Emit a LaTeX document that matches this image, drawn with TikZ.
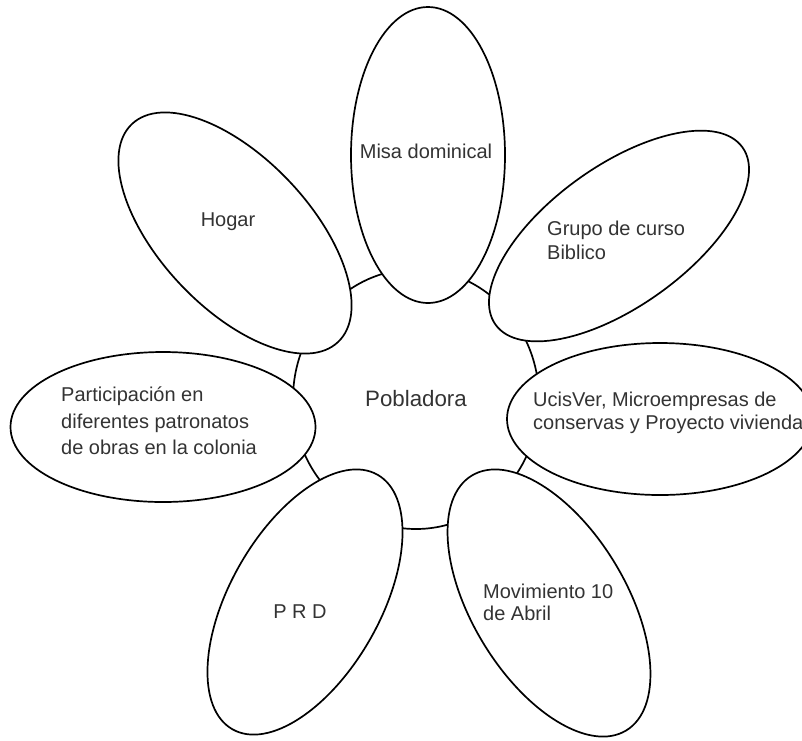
\documentclass[tikz,border=0pt]{standalone}
\usepackage{fontspec}
\setmainfont{Liberation Sans}
\usetikzlibrary{shapes.geometric,positioning}
\tikzset{
    core/.style={
            ellipse,
            draw,
            line width=1.7pt,
            inner sep=0pt,
            minimum width=246pt,
            minimum height=260pt,
            font=\fontsize{22.3}{26}\selectfont,
            text=black!80
        },
    petal/.style={
            ellipse,
            draw,
            line width=1.7pt,
            fill=white,
            inner sep=0pt
        },
    petaltext/.style={
            align=left,
            inner sep=0pt,
            font=\fontsize{20}{24}\selectfont,
            text=black!80
        },
}
\begin{document}
\begin{tikzpicture}[x=1pt,y=-1pt]
  \useasboundingbox (0,0) rectangle (802,740);
  \clip (0,0) rectangle (802,740);
  % Center
  \node[core] (pob) at (416,399) {Pobladora};
  % Petals
  \node[petal, rotate=90, minimum width=296pt, minimum height=154pt] (misa) at (428,155) {};
  \node[petal, rotate=133.4, minimum width=300pt, minimum height=150pt] (hogar) at (235,233) {};
  \node[petal, rotate=35.7, minimum width=304pt, minimum height=140pt] (grupo) at (619,236) {};
  \node[petal, minimum width=305pt, minimum height=150pt] (obras) at (163,427) {};
  \node[petal, minimum width=306pt, minimum height=152pt] (ucis) at (660,419) {};
  \node[petal, rotate=60.3, minimum width=293pt, minimum height=150pt] (prd) at (305,602) {};
  \node[petal, rotate=121.2, minimum width=298pt, minimum height=154pt] (movim) at (549,603) {};
  % Petal texts
  \node[petaltext] (misa-t) at (426,151) {Misa dominical};
  \node[petaltext] (hogar-t) at (228,222) {Hogar};
  \node[petaltext, anchor=west] (grupo-t) at (547,240) {Grupo de curso\\Biblico};
  \node[petaltext, anchor=west, font=\fontsize{20}{26.5}\selectfont] (obras-t) at (61,421) {Participación en\\diferentes patronatos\\de obras en la colonia};
  \node[petaltext, anchor=west, font=\fontsize{20}{23.5}\selectfont] (ucis-t) at (533,413) {UcisVer, Microempresas de\\conservas y Proyecto vivienda};
  \node[petaltext] (prd-t) at (300,612) {P R D};
  \node[petaltext, anchor=west, font=\fontsize{20}{22}\selectfont] (movim-t) at (483,602) {Movimiento 10\\de Abril};
\end{tikzpicture}
\end{document}
